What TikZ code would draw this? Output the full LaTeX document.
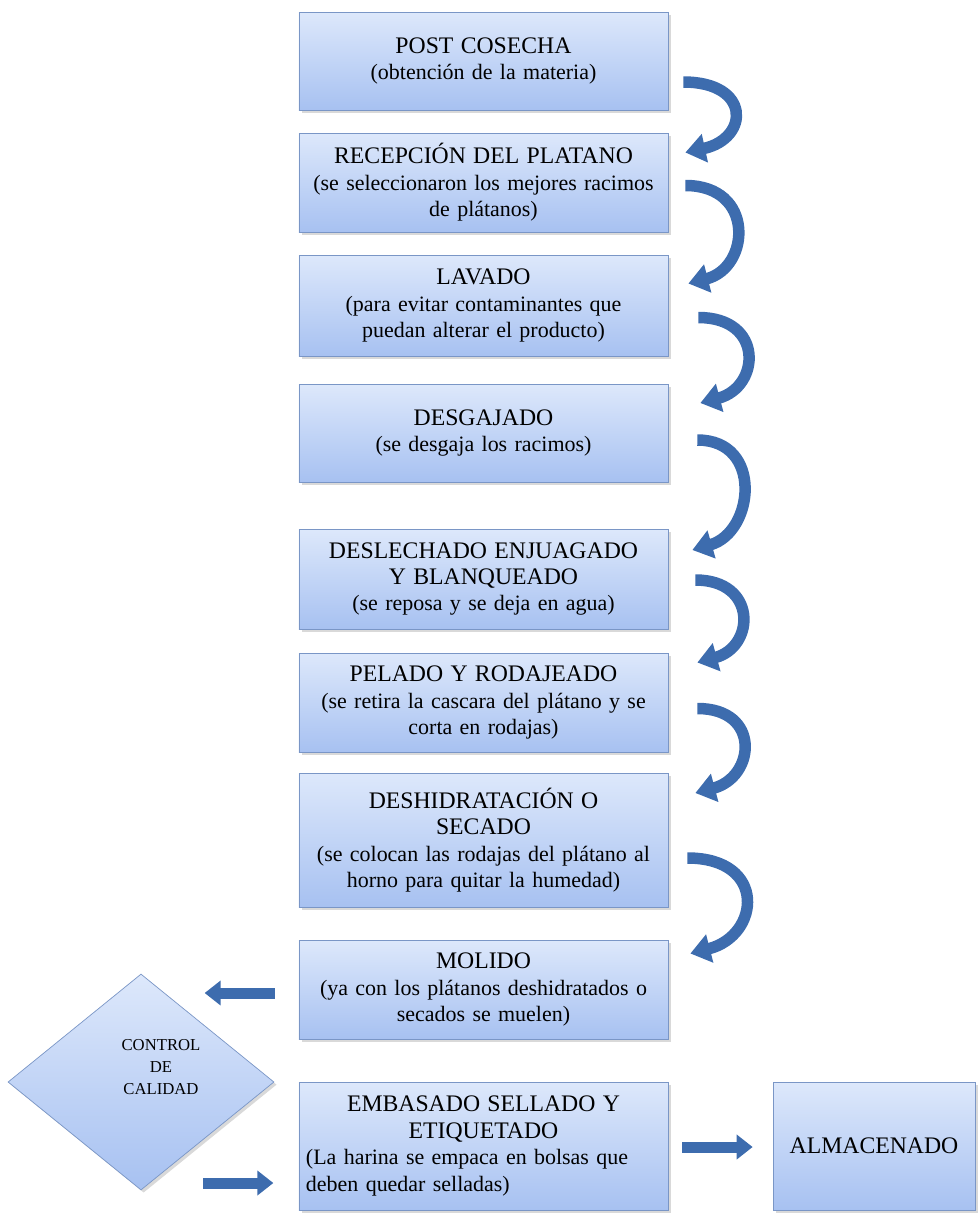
\documentclass[tikz,border=0pt]{standalone}
\usepackage{fontspec}
\setmainfont{Liberation Serif}
\usepackage{tikz}
\usetikzlibrary{shapes.geometric, shadows, arrows.meta, calc}

\definecolor{BoxTop}{HTML}{DDE8FB}
\definecolor{BoxBot}{HTML}{A7C1F1}
\definecolor{BoxLine}{HTML}{7A96C6}
\definecolor{ArrowBlue}{HTML}{3D6CAE}

\tikzset{
    paso/.style = {draw = BoxLine, top color = BoxTop, bottom color = BoxBot,
        minimum width = 73.8mm, text width = 71mm, align = center, inner sep = 2pt,
        font = \fontsize{12.5}{15}\selectfont,
        drop shadow = {shadow xshift = 1.5pt, shadow yshift = -1.5pt, opacity = 0.3}},
    curva/.style = {ArrowBlue, line width = 2.3mm,
        -{Triangle[width = 5.6mm, length = 4mm]}},
    flecha/.style = {ArrowBlue, line width = 2.2mm,
        -{Triangle[width = 4.8mm, length = 3.2mm]}},
}
\newcommand{\titulo}[1]{{\fontsize{13.5}{16}\selectfont #1}}

\begin{document}
\begin{tikzpicture}[x = 0.2mm, y = -0.2mm]
    \useasboundingbox (0, 0) rectangle (980, 1215);

    \node [paso, minimum height = 19.6mm] (post) at (483.5, 61)
        {\titulo{POST COSECHA}\\ (obtención de la materia)\\[2ex]};
    \node [paso, minimum height = 19.8mm] (recep) at (483.5, 182.5)
        {\titulo{RECEPCIÓN DEL PLATANO}\\ (se seleccionaron los mejores racimos\\ de plátanos)};
    \node [paso, minimum height = 20.2mm] (lavado) at (483.5, 305.5)
        {\titulo{LAVADO}\\ (para evitar contaminantes que\\ puedan alterar el producto)};
    \node [paso, minimum height = 19.6mm] (desgaj) at (483.5, 433)
        {\titulo{DESGAJADO}\\ (se desgaja los racimos)\\[1ex]};
    \node [paso, minimum height = 20mm] (deslech) at (483.5, 579)
        {\titulo{DESLECHADO ENJUAGADO}\\ \titulo{Y BLANQUEADO}\\ (se reposa y se deja en agua)};
    \node [paso, minimum height = 19.8mm] (pelado) at (483.5, 702.5)
        {\titulo{PELADO Y RODAJEADO}\\ (se retira la cascara del plátano y se\\ corta en rodajas)};
    \node [paso, minimum height = 26.8mm] (deshid) at (483.5, 840)
        {\titulo{DESHIDRATACIÓN O}\\ \titulo{SECADO}\\ (se colocan las rodajas del plátano al\\ horno para quitar la humedad)};
    \node [paso, minimum height = 19.8mm] (molido) at (483.5, 989.5)
        {\titulo{MOLIDO}\\ (ya con los plátanos deshidratados o\\ secados se muelen)};
    \node [paso, minimum height = 25.6mm] (embas) at (483.5, 1146)
        {\titulo{EMBASADO SELLADO Y}\\ \titulo{ETIQUETADO}\\
         \makebox[\linewidth][l]{(La harina se empaca en bolsas que}\\
         \makebox[\linewidth][l]{deben quedar selladas)}};
    \node [paso, minimum width = 40.4mm, text width = 38mm, minimum height = 25.6mm] (almac) at (874, 1146)
        {\titulo{ALMACENADO}};
    \node [paso, diamond, text width = 10mm, minimum width = 53.2mm, minimum height = 43.2mm, inner sep = 0pt,
        label = {[align = center, font = \fontsize{9.5}{12.5}\selectfont, xshift = 4mm, yshift = 3mm]center:CONTROL\\ DE\\ CALIDAD}]
        (control) at (141, 1082) {};

    % flechas curvas entre pasos
    \draw [curva] ($(post.east) + (15, 21)$) .. controls +(68, 0) and +(64, -14) .. ($(recep.east) + (17, -30)$);
    \draw [curva] ($(recep.east) + (17, 3)$) .. controls +(70, 0) and +(62, -16) .. ($(lavado.east) + (20, -22)$);
    \draw [curva] ($(lavado.east) + (30, 12)$) .. controls +(66, 0) and +(60, -16) .. ($(desgaj.east) + (32, -30)$);
    \draw [curva] ($(desgaj.east) + (29, 7)$) .. controls +(66, 0) and +(62, -18) .. ($(deslech.east) + (24, -29)$);
    \draw [curva] ($(deslech.east) + (27, 1)$) .. controls +(62, 0) and +(58, -16) .. ($(pelado.east) + (29, -40)$);
    \draw [curva] ($(pelado.east) + (29, 6)$) .. controls +(64, 0) and +(60, -16) .. ($(deshid.east) + (27, -47)$);
    \draw [curva] ($(deshid.east) + (19, 18)$) .. controls +(80, 0) and +(70, -18) .. ($(molido.east) + (22, -36)$);

    % flechas rectas
    \draw [flecha] (molido.west |- 0, 993) ++(-24, 0) coordinate (m1) -- ++(-70, 0) coordinate (m2);
    \draw [flecha] (control.east |- 0, 1183) ++(-71, 0) -- ++(70, 0);
    \draw [flecha] ($(embas.east) + (14, 1)$) -- ($(almac.west) + (-20, 1)$);
\end{tikzpicture}
\end{document}
